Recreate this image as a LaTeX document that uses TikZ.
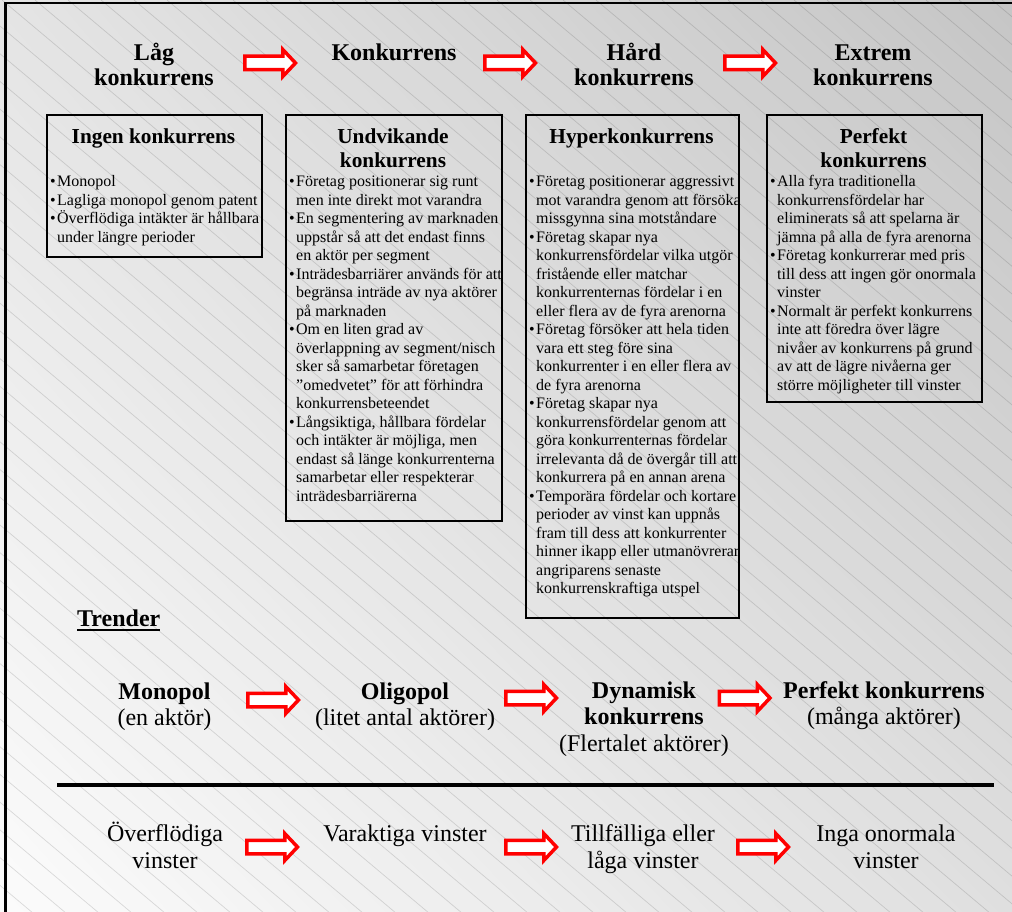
\documentclass[tikz,border=0pt]{standalone}
\usepackage{fontspec}
\setmainfont{Liberation Serif}
\usetikzlibrary{shadings}
% centred and left-aligned text blocks whose baseline is the first line
\newcommand\cpar[1]{\parbox[t]{260pt}{\centering #1}}
\newcommand\lpar[1]{\parbox[t]{225pt}{\raggedright #1}}
\newcommand\bul{\leavevmode\llap{•\hspace{1.5pt}}}
\definecolor{bgUL}{gray}{0.895}
\definecolor{bgUR}{gray}{0.775}
\definecolor{bgLL}{gray}{0.985}
\definecolor{bgLR}{gray}{0.875}
\definecolor{arrowred}{RGB}{255,0,0}
\begin{document}
\begin{tikzpicture}[x=1pt,y=-1pt,
  hatch/.style={black, opacity=0.13, line width=0.7pt},
  headline/.style={inner sep=0pt, anchor=base, font=\bfseries\fontsize{24}{25}\selectfont},
  boxframe/.style={draw=black, line width=1.8pt, inner sep=0pt, anchor=north west},
  boxtitle/.style={inner sep=0pt, anchor=base, font=\bfseries\fontsize{21.3}{24.5}\selectfont},
  boxbody/.style={inner sep=0pt, anchor=base west, font=\fontsize{16}{18.5}\selectfont},
  trend/.style={inner sep=0pt, anchor=base, font=\fontsize{24}{26.8}\selectfont},
  profit/.style={inner sep=0pt, anchor=base, font=\fontsize{24}{27}\selectfont},
  blockarrow/.pic={
    \draw[arrowred, line width=3.5pt, fill=white, line join=miter]
      (-25.75,-6.75) -- (12.25,-6.75) -- (12.25,-13.5) -- (25,0)
      -- (12.25,13.5) -- (12.25,6.75) -- (-25.75,6.75) -- cycle;
  }
]
\useasboundingbox (0,0) rectangle (1012,912);

% background: diagonal grey gradient with fine diagonal hatching
\shade[upper left=bgUL, upper right=bgUR, lower left=bgLL, lower right=bgLR]
  (0,0) rectangle (1012,912);
\begin{scope}
  \clip (0,0) rectangle (1012,912);
  \foreach \k in {-34,...,31}
    \draw[hatch] (\k*33+2,0) -- ++(1100,924);
\end{scope}

% frame
\draw[line width=3pt] (5.5,912) -- (5.5,3);
\draw[line width=2pt] (4,3) -- (1012,3);

% levels of competition
\node[headline] (low)  at (154,61) {\cpar{Låg\\konkurrens}};
\node[headline] (mid)  at (394,61) {\cpar{Konkurrens}};
\node[headline] (hard) at (634,61) {\cpar{Hård\\konkurrens}};
\node[headline] (ext)  at (873,61) {\cpar{Extrem\\konkurrens}};

\coordinate (a1) at (270.5,63);
\coordinate (a2) at (510.5,63);
\coordinate (a3) at (750.5,63);
\pic at (a1) {blockarrow};
\pic at (a2) {blockarrow};
\pic at (a3) {blockarrow};

% description boxes
\node[boxframe, minimum width=215pt, minimum height=142pt] (box1) at (46,114) {};
\node[boxframe, minimum width=216pt, minimum height=406pt] (box2) at (285,114) {};
\node[boxframe, minimum width=213pt, minimum height=503pt] (box3) at (525,114) {};
\node[boxframe, minimum width=215pt, minimum height=287pt] (box4) at (766,114) {};

\node[boxtitle] (bt1) at (153.5,144) {\cpar{Ingen konkurrens}};
\node[boxtitle] (bt2) at (393,143.5) {\cpar{Undvikande\\konkurrens}};
\node[boxtitle] (bt3) at (631.5,143.5) {\cpar{Hyperkonkurrens}};
\node[boxtitle] (bt4) at (873.5,143.5) {\cpar{Perfekt\\konkurrens}};

\node[boxbody] (bb1) at (57,187) {\lpar{%
\bul Monopol\\
\bul Lagliga monopol genom patent\\
\bul Överflödiga intäkter är hållbara\\
under längre perioder}};

\node[boxbody] (bb2) at (296,187) {\lpar{%
\bul Företag positionerar sig runt\\
men inte direkt mot varandra\\
\bul En segmentering av marknaden\\
uppstår så att det endast finns\\
en aktör per segment\\
\bul Inträdesbarriärer används för att\\
begränsa inträde av nya aktörer\\
på marknaden\\
\bul Om en liten grad av\\
överlappning av segment/nisch\\
sker så samarbetar företagen\\
”omedvetet” för att förhindra\\
konkurrensbeteendet\\
\bul Långsiktiga, hållbara fördelar\\
och intäkter är möjliga, men\\
endast så länge konkurrenterna\\
samarbetar eller respekterar\\
inträdesbarriärerna}};

\node[boxbody] (bb3) at (536,187) {\lpar{%
\bul Företag positionerar aggressivt\\
mot varandra genom att försöka\\
missgynna sina motståndare\\
\bul Företag skapar nya\\
konkurrensfördelar vilka utgör\\
fristående eller matchar\\
konkurrenternas fördelar i en\\
eller flera av de fyra arenorna\\
\bul Företag försöker att hela tiden\\
vara ett steg före sina\\
konkurrenter i en eller flera av\\
de fyra arenorna\\
\bul Företag skapar nya\\
konkurrensfördelar genom att\\
göra konkurrenternas fördelar\\
irrelevanta då de övergår till att\\
konkurrera på en annan arena\\
\bul Temporära fördelar och kortare\\
perioder av vinst kan uppnås\\
fram till dess att konkurrenter\\
hinner ikapp eller utmanövrerar\\
angriparens senaste\\
konkurrenskraftiga utspel}};

\node[boxbody] (bb4) at (777,187) {\lpar{%
\bul Alla fyra traditionella\\
konkurrensfördelar har\\
eliminerats så att spelarna är\\
jämna på alla de fyra arenorna\\
\bul Företag konkurrerar med pris\\
till dess att ingen gör onormala\\
vinster\\
\bul Normalt är perfekt konkurrens\\
inte att föredra över lägre\\
nivåer av konkurrens på grund\\
av att de lägre nivåerna ger\\
större möjligheter till vinster}};

% trends
\node[inner sep=0pt, anchor=base west, font=\bfseries\fontsize{24}{26}\selectfont]
  (trender) at (77,626) {Trender};
\draw[line width=2pt] ([yshift=-4pt]trender.base west) -- ([yshift=-4pt]trender.base east);

\node[trend] (mono)  at (164.5,699) {\cpar{\textbf{Monopol}\\(en aktör)}};
\node[trend] (oligo) at (405,699) {\cpar{\textbf{Oligopol}\\(litet antal aktörer)}};
\node[trend] (dyn)   at (644,698) {\cpar{\textbf{Dynamisk}\\\textbf{konkurrens}\\(Flertalet aktörer)}};
\node[trend] (perf)  at (884,698) {\cpar{\textbf{Perfekt konkurrens}\\(många aktörer)}};

\coordinate (t1) at (273.5,700);
\coordinate (t2) at (531.5,698);
\coordinate (t3) at (745,698);
\pic at (t1) {blockarrow};
\pic at (t2) {blockarrow};
\pic at (t3) {blockarrow};

% separator
\coordinate (sepL) at (57,785);
\coordinate (sepR) at (994,785);
\draw[line width=4pt] (sepL) -- (sepR);

% profits
\node[profit] (p1) at (165,841) {\cpar{Överflödiga\\vinster}};
\node[profit] (p2) at (405,841) {\cpar{Varaktiga vinster}};
\node[profit] (p3) at (643,841) {\cpar{Tillfälliga eller\\låga vinster}};
\node[profit] (p4) at (886,841) {\cpar{Inga onormala\\vinster}};

\coordinate (v1) at (272.5,847);
\coordinate (v2) at (531.5,847);
\coordinate (v3) at (763.5,847);
\pic at (v1) {blockarrow};
\pic at (v2) {blockarrow};
\pic at (v3) {blockarrow};
\end{tikzpicture}
\end{document}
